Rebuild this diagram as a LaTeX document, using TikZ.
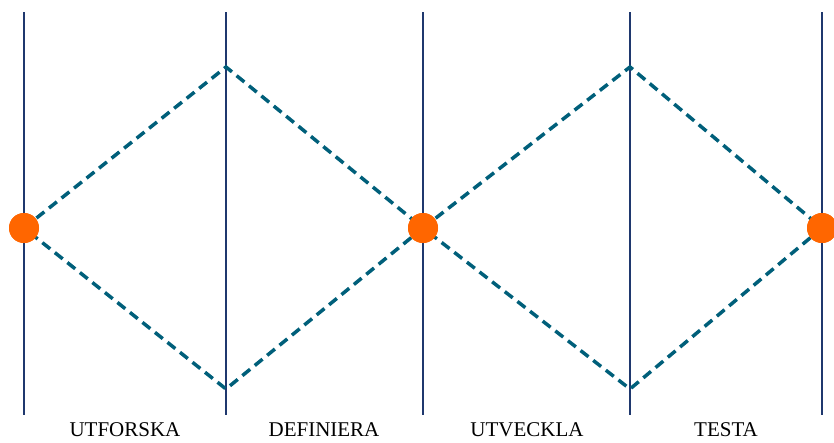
\documentclass[tikz,border=0pt]{standalone}
\usepackage{fontspec}
\setmainfont{Liberation Serif}
\definecolor{phaseline}{RGB}{31,56,110}
\definecolor{pathteal}{RGB}{0,95,122}
\definecolor{dotorange}{RGB}{255,102,0}
\usepackage{tikz}
\usetikzlibrary{positioning}

\begin{document}
\begin{tikzpicture}[x=1pt, y=-1pt,
    phase/.style={draw=phaseline, line width=1.6pt},
    path/.style={draw=pathteal, line width=3.5pt, dash pattern=on 10pt off 6pt},
    milestone/.style={circle, fill=dotorange, inner sep=0pt, minimum size=30pt},
    stage/.style={font=\fontsize{21}{21}\selectfont, anchor=base}]
        \useasboundingbox (0,0) rectangle (834,442);

        % Phase borders
        \foreach \x/\n in {24/a, 226/b, 423/c, 630/d, 822/e} {
            \coordinate (top\n) at (\x,12);
            \coordinate (bot\n) at (\x,415);
            \draw[phase] (top\n) -- (bot\n);
        }

        % Corners of the diamonds
        \coordinate (peak1) at (226,67);
        \coordinate (dip1) at (226,389);
        \coordinate (peak2) at (630,67);
        \coordinate (dip2) at (630,389);

        % Milestones
        \node[milestone] (start) at (24,228) {};
        \node[milestone] (mid) at (423,228) {};
        \node[milestone] (finish) at (822,228) {};

        % Double diamond
        \draw[path] (start.center) -- (peak1) -- (mid.center) -- (dip1) -- cycle;
        \draw[path] (mid.center) -- (peak2) -- (finish.center) -- (dip2) -- cycle;
        \node[milestone] at (start) {};
        \node[milestone] at (mid) {};
        \node[milestone] at (finish) {};

        % Stage names
        \node[stage] (explore) at (125,436) {UTFORSKA};
        \node[stage] (define) at (324,436) {DEFINIERA};
        \node[stage] (develop) at (527,436) {UTVECKLA};
        \node[stage] (test) at (726,436) {TESTA};
\end{tikzpicture}
\end{document}
